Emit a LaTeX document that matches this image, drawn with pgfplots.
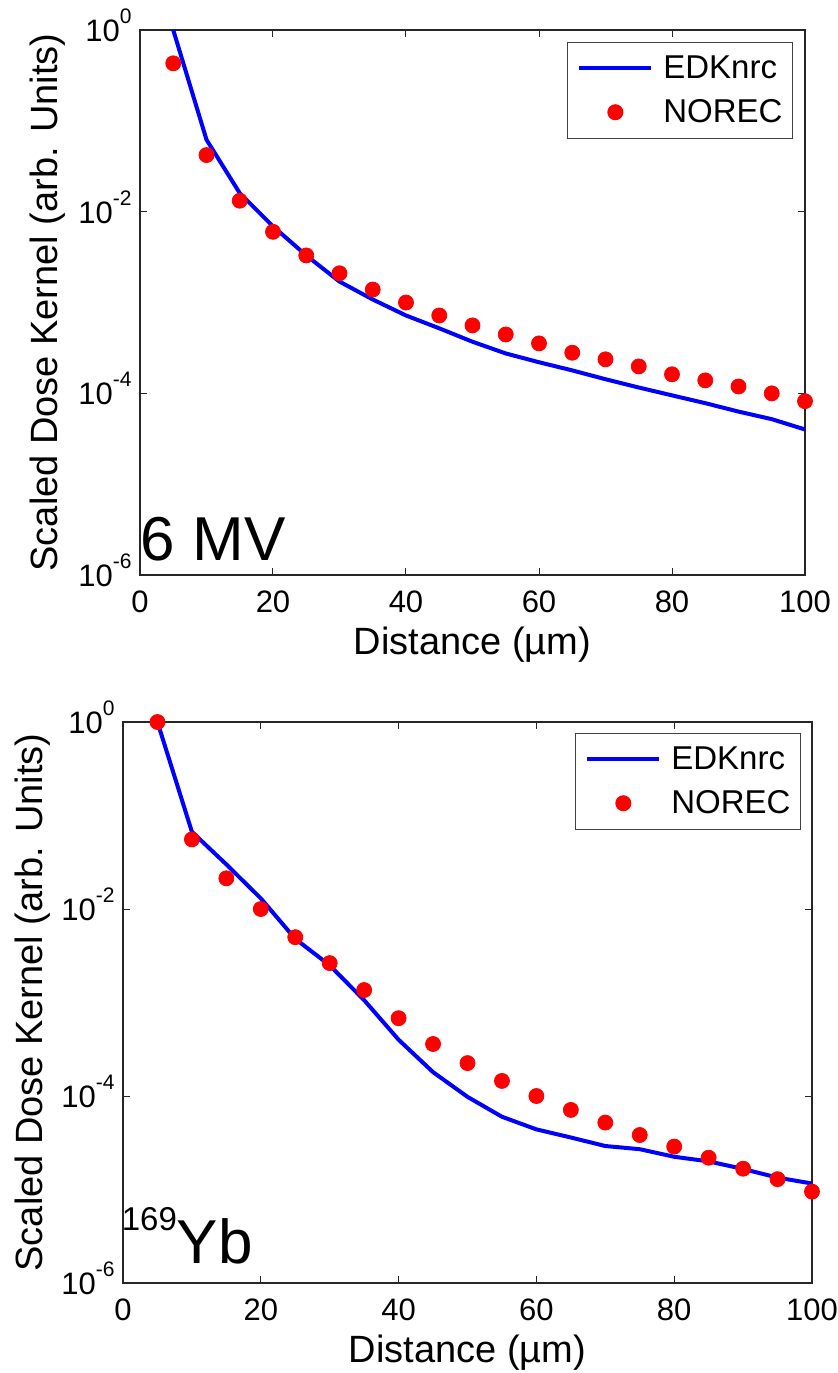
\documentclass[border=0pt]{standalone}
\usepackage{fontspec}
\setmainfont{Liberation Sans}
\usepackage{pgfplots}
\pgfplotsset{compat=1.18}

\newcommand{\tp}[1]{10\raisebox{9pt}{\fontsize{10.5}{10.5}\selectfont #1}}

\pgfplotsset{
  myax/.style={
    scale only axis,
    xmin=0, xmax=100, ymin=1e-6, ymax=1,
    xtick={0,20,...,100}, ytick={1e-6,1e-4,1e-2,1},
    yticklabels={\tp{-6},\tp{-4},\tp{-2},\tp{0}},
    yminorticks=false,
    tick align=inside, major tick length=3.5pt,
    axis line style={black!85, line width=0.6pt},
    every tick/.style={black!85, line width=0.5pt},
    /pgf/number format/assume math mode=true,
    ticklabel style={font=\fontsize{15.5}{15.5}\selectfont},
    xticklabel style={anchor=base, yshift=-18.5pt, inner sep=0pt},
    yticklabel style={anchor=base east, yshift=-5.75pt, inner sep=0pt, xshift=-4pt},
    xlabel={Distance (µm)},
    ylabel={Scaled Dose Kernel (arb. Units)},
    label style={font=\fontsize{19}{19}\selectfont, inner sep=0pt},
    clip mode=individual,
    legend cell align=left,
    legend style={font=\fontsize{16.5}{16.5}\selectfont, draw=black!75, line width=0.5pt,
      inner xsep=5pt, inner ysep=6.5pt, row sep=9pt, column sep=5pt,
      nodes={inner sep=0pt}, anchor=north east},
  },
  edk/.style={blue, line width=2pt, no marks,
    legend image code/.code={\draw[blue, line width=2pt] (0pt,0pt) -- (36pt,0pt);}},
  norec/.style={only marks, mark=*, mark size=3.75pt, red, mark options={draw=red, fill=red},
    legend image code/.code={\path[draw=none,fill=none] (0pt,0pt) -- (36pt,0pt); \fill[red] (18pt,0pt) circle (3.75pt);}},
}

\begin{document}
\begin{tikzpicture}
\useasboundingbox (0,0) rectangle (419pt,-686.5pt);

% ---------- top: 6 MV ----------
\begin{semilogyaxis}[myax,
  at={(70pt,-15pt)}, anchor=north west,
  width=332.5pt, height=272.5pt,
  xlabel style={at={(axis description cs:0.5,-0.14495)}, anchor=base},
  ylabel style={at={(axis description cs:-0.12331,0.5)}, anchor=base},
  legend style={at={(axis description cs:0.98195,0.97798)}},
]
\addplot[edk] coordinates {
(5,1.0) (10,0.062) (15,0.016) (20,0.0069) (25,0.0033) (30,0.0017)
(35,0.00108) (40,7.2e-4) (45,5.2e-4) (50,3.7e-4) (55,2.75e-4) (60,2.2e-4)
(65,1.79e-4) (70,1.43e-4) (75,1.16e-4) (80,9.5e-5) (85,7.8e-5) (90,6.3e-5)
(95,5.2e-5) (100,4.0e-5)};
\addlegendentry{EDKnrc}
\addplot[norec] coordinates {
(5,0.43) (10,0.042) (15,0.0132) (20,0.006) (25,0.0033) (30,0.0021)
(35,0.00139) (40,0.001) (45,7.2e-4) (50,5.6e-4) (55,4.45e-4) (60,3.55e-4)
(65,2.8e-4) (70,2.37e-4) (75,1.98e-4) (80,1.62e-4) (85,1.39e-4) (90,1.19e-4)
(95,1.0e-4) (100,8.2e-5)};
\addlegendentry{NOREC}
\end{semilogyaxis}

% ---------- bottom: 169Yb ----------
\begin{semilogyaxis}[myax,
  at={(61.5pt,-361pt)}, anchor=north west,
  width=344.5pt, height=280.5pt,
  xlabel style={at={(axis description cs:0.5,-0.14082)}, anchor=base},
  ylabel style={at={(axis description cs:-0.11756,0.5)}, anchor=base},
  legend style={at={(axis description cs:0.98403,0.98039)}},
]
\addplot[edk] coordinates {
(5,1.0) (10,0.067) (15,0.03) (20,0.013) (25,0.0048) (30,0.0025)
(35,0.00106) (40,4.0e-4) (45,1.8e-4) (50,9.8e-5) (55,6.0e-5) (60,4.4e-5)
(65,3.6e-5) (70,2.92e-5) (75,2.7e-5) (80,2.24e-5) (85,2.0e-5) (90,1.66e-5)
(95,1.34e-5) (100,1.16e-5)};
\addlegendentry{EDKnrc}
\addplot[norec] coordinates {
(5,1.0) (10,0.0556) (15,0.0213) (20,0.01) (25,0.005) (30,0.00264)
(35,0.00136) (40,6.8e-4) (45,3.6e-4) (50,2.25e-4) (55,1.45e-4) (60,1.0e-4)
(65,7.1e-5) (70,5.2e-5) (75,3.83e-5) (80,2.88e-5) (85,2.19e-5) (90,1.67e-5)
(95,1.29e-5) (100,9.5e-6)};
\addlegendentry{NOREC}
\end{semilogyaxis}

\node[anchor=base west, inner sep=0pt, font=\fontsize{31}{31}\selectfont] at (70.25pt,-280pt) {6 MV};
\node[anchor=base west, inner sep=0pt, font=\fontsize{31}{31}\selectfont] at (60.75pt,-631.5pt) {\raisebox{16.5pt}{\fontsize{16.5}{16.5}\selectfont 169}Yb};
\end{tikzpicture}
\end{document}
